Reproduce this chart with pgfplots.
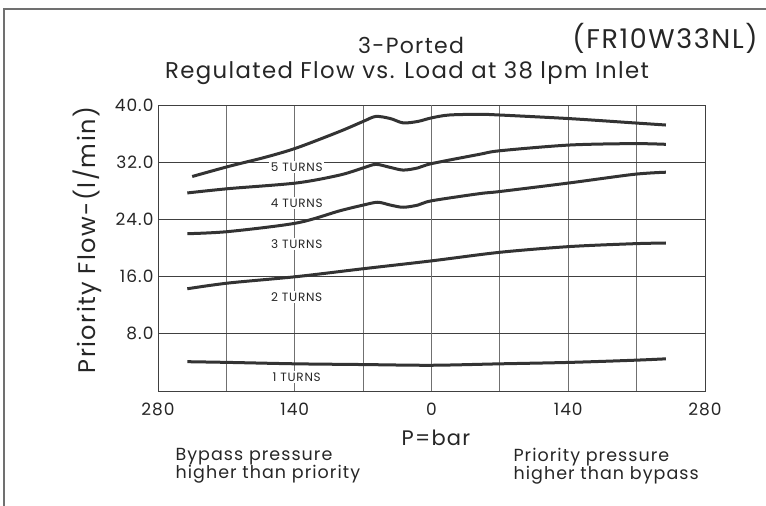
\documentclass[border=0pt]{standalone}
\usepackage{pgfplots}
\pgfplotsset{compat=1.18}
\usepackage{fontspec}
\setmainfont{Poppins}[LetterSpace=6]
\definecolor{curve}{HTML}{333333}
\definecolor{hgrid}{HTML}{404040}
\definecolor{vgrid}{HTML}{707070}
\begin{document}
\begin{tikzpicture}[x=1pt,y=1pt]
\path[use as bounding box] (0,0) rectangle (766,-506);
\draw[line width=1.5pt, vgrid] (4,-506) -- (4,-9) -- (766,-9);
\begin{axis}[
    at={(158pt,-391pt)}, anchor=south west,
    scale only axis, width=547pt, height=286pt,
    xmin=-280, xmax=280, ymin=0, ymax=40,
    xtick={-280,-210,...,280},
    xticklabels={280,,140,,0,,140,,280},
    ytick={0,8,16,24,32,40},
    yticklabels={,8.0,16.0,24.0,32.0,40.0},
    major tick length=0pt,
    xmajorgrids, ymajorgrids,
    x grid style={vgrid, line width=1pt},
    y grid style={hgrid, line width=1pt},
    extra x ticks={0}, extra x tick labels={},
    extra x tick style={grid style={black, line width=1.2pt}},
    axis line style={hgrid, line width=1pt},
    /pgf/number format/assume math mode=true,
    tick label style={font=\fontsize{17}{20}\selectfont, text=black!85},
    xticklabel style={yshift=-8pt},
    yticklabel style={xshift=-1pt},
    clip=false,
]
\addplot[smooth, curve, line width=3pt] coordinates {
(-245,30.0) (-208,31.4) (-170,32.7) (-138,34.0) (-94,36.3) (-70,37.7) (-57,38.4)
(-42,38.1) (-29,37.5) (-14,37.7) (0,38.2) (18,38.6) (49,38.7) (70,38.6)
(141,38.1) (207,37.5) (240,37.2)
};
\addplot[smooth, curve, line width=3pt] coordinates {
(-250,27.7) (-208,28.3) (-138,29.1) (-94,30.2) (-70,31.2) (-57,31.7)
(-43,31.3) (-29,30.9) (-14,31.2) (0,31.8) (49,33.1) (70,33.6)
(141,34.4) (207,34.6) (240,34.5)
};
\addplot[smooth, curve, line width=3pt] coordinates {
(-250,22.0) (-208,22.3) (-138,23.5) (-94,25.2) (-70,26.0) (-55,26.4)
(-42,26.0) (-29,25.7) (-14,26.0) (0,26.6) (49,27.6) (70,27.9)
(141,29.1) (207,30.3) (240,30.6)
};
\addplot[smooth, curve, line width=3pt] coordinates {
(-250,14.3) (-208,15.1) (-138,16.0) (-70,17.1) (0,18.2) (70,19.4)
(141,20.2) (207,20.6) (240,20.7)
};
\addplot[smooth, curve, line width=3pt] coordinates {
(-250,4.1) (-208,4.0) (-138,3.8) (-70,3.7) (0,3.6) (70,3.8)
(141,4.0) (207,4.3) (240,4.5)
};
\begin{scope}[every node/.style={fill=white, inner sep=1.5pt, font=\fontsize{12}{14}\selectfont, text=black!85}]
\node at (axis cs:-138,31.3) {5 TURNS};
\node at (axis cs:-138,26.3) {4 TURNS};
\node at (axis cs:-138,20.6) {3 TURNS};
\node at (axis cs:-138,13.1) {2 TURNS};
\node at (axis cs:-138,2.0) {1 TURNS};
\end{scope}
\end{axis}
\begin{scope}[every node/.style={text=black!85}]
\node[font=\fontsize{22}{26}\selectfont] at (411,-45) {3-Ported};
\node[font=\fontsize{22.8}{26}\selectfont] at (407,-73) {Regulated Flow vs. Load at 38 lpm Inlet};
\node[font=\fontsize{27}{30}\selectfont] at (665,-38) {(FR10W33NL)};
\node[rotate=90, font=\fontsize{24}{28}\selectfont] at (87,-240) {Priority Flow-(l/min)};
\node[font=\fontsize{21}{25}\selectfont] at (436,-438) {P=bar};
\node[anchor=west, align=left, font=\fontsize{17.5}{18.5}\selectfont] at (172,-466) {Bypass pressure\\higher than priority};
\node[anchor=west, align=left, font=\fontsize{17.5}{18.5}\selectfont] at (510,-466) {Priority pressure\\higher than bypass};
\end{scope}
\end{tikzpicture}
\end{document}
